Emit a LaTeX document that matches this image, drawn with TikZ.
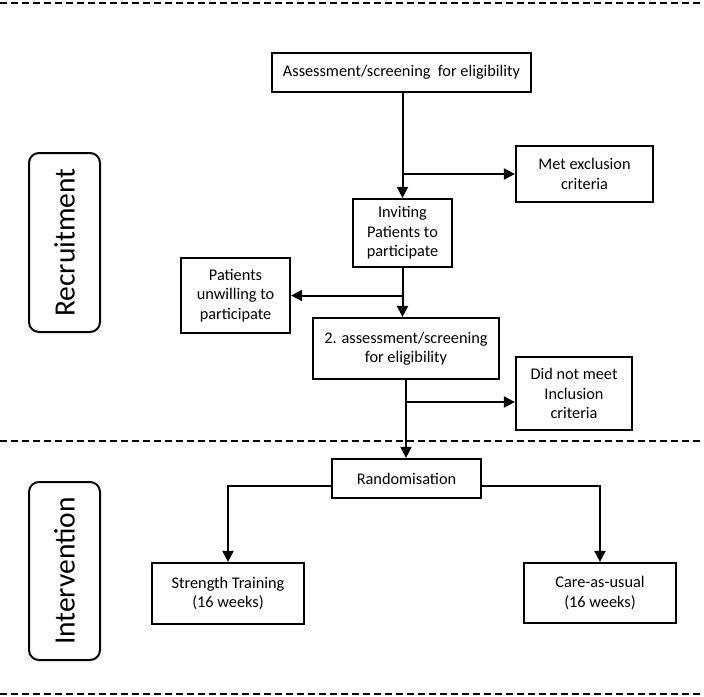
\documentclass[tikz,border=0pt]{standalone}
\usepackage{fontspec}
\setmainfont{Carlito}
\usetikzlibrary{arrows.meta}

\begin{document}
\begin{tikzpicture}[x=1pt,y=-1pt,every text node part/.style={align=center}]
\tikzstyle{every node}+=[inner sep=0pt,font=\fontsize{16.3}{19.5}\selectfont]
\tikzstyle{box}=[draw=black,line width=2.2pt,rectangle]
\tikzstyle{phase}=[draw=black,line width=2pt,rectangle,rounded corners=10pt,rotate=90,minimum height=71pt,font=\fontsize{29.5}{34}\selectfont]
\tikzstyle{arr}=[black,line width=2pt,-{Triangle[length=11pt,width=11pt]}]
\tikzstyle{sep}=[black,line width=2.4pt,dash pattern=on 7pt off 4pt]
\useasboundingbox (0,0) rectangle (704,696);
\draw [sep] (0,3) -- (704,3);
\draw [sep] (0,441) -- (704,441);
\draw [sep] (0,694) -- (704,694);
\node [phase,minimum width=179pt] (recr) at (64.5,242.5) {Recruitment};
\node [phase,minimum width=178pt] (interv) at (64.5,571) {Intervention};
\node [box,minimum width=259pt,minimum height=39pt] (asse) at (401.5,72.5) {Assessment/screening\ \ for eligibility};
\node [box,minimum width=137pt,minimum height=56pt] (excl) at (584.5,174) {Met exclusion\\criteria};
\node [box,minimum width=99pt,minimum height=68pt] (invite) at (402.5,233) {Inviting\\Patients to\\participate};
\node [box,minimum width=109pt,minimum height=75pt] (unwill) at (235.5,295.5) {Patients\\unwilling to\\participate};
\node [box,minimum width=186pt,minimum height=61pt] (asse2) at (406,348.5) {2. assessment/screening\\for eligibility};
\node [box,minimum width=116pt,minimum height=73pt] (incl) at (574,393.5) {Did not meet\\Inclusion\\criteria};
\node [box,minimum width=149pt,minimum height=39pt] (rand) at (406.5,478.5) {Randomisation};
\node [box,minimum width=152pt,minimum height=61pt] (strength) at (228,593.5) {Strength Training\\(16 weeks)};
\node [box,minimum width=152pt,minimum height=60pt] (care) at (600,593) {Care-as-usual\\(16 weeks)};
\coordinate (split) at (406,402);
\draw [arr] (asse.south -| invite.north) -- (invite.north);
\draw [arr] (excl.west -| invite.north) -- (excl.west);
\draw [arr] (invite.south) -- (invite.south |- asse2.north);
\draw [arr] (unwill.east -| invite.south) -- (unwill.east);
\draw [arr] (asse2.south) -- (asse2.south |- rand.north);
\draw [arr] (split) -- (split -| incl.west);
\draw [arr] ([yshift=-7.5pt]rand.west) -| (strength.north);
\draw [arr] ([yshift=-7.5pt]rand.east) -| (care.north);
\end{tikzpicture}
\end{document}
